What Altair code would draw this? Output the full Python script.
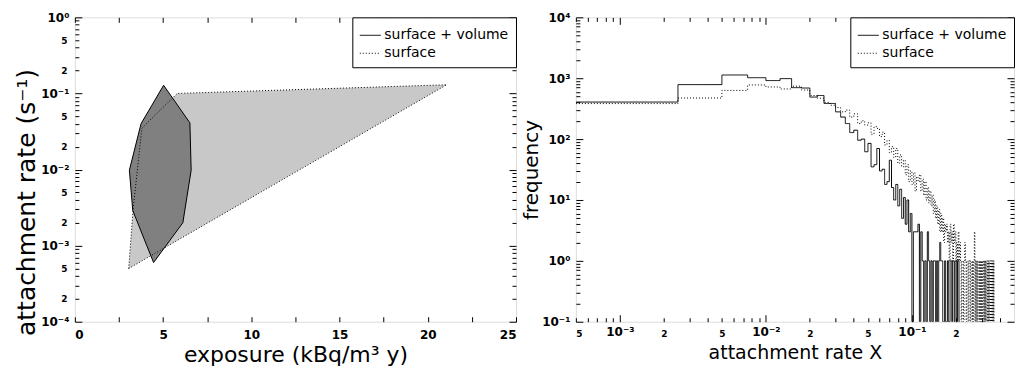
import math
import altair as alt
import pandas as pd

# ---------------- data ----------------
# left panel: polygons in (exposure, attachment rate)
sv_exposure = [5.03, 6.52, 6.59, 6.12, 4.46, 3.28, 3.09, 3.75, 5.03]
sv_rate = [0.128, 0.041, 0.0098, 0.0020, 0.0006, 0.0029, 0.0098, 0.040, 0.128]
s_exposure = [3.05, 3.30, 3.80, 5.80, 21.07, 3.05]
s_rate = [0.0005, 0.0030, 0.035, 0.100, 0.130, 0.0005]

# right panel: histogram counts, bins of equal width starting at 0
bin_width = 0.0025
sv_counts = [406, 785, 1130, 1020, 915, 985, 700, 690, 490, 520,
             385, 385, 280, 230, 180, 128, 140, 96, 100, 62,
             85, 35, 38, 70, 30, 32, 18, 20, 45, 16,
             10, 18, 8, 15, 5, 11, 4, 10, 3, 6,
             0, 3, 3, 3, 4, 0, 3, 1, 0, 1,
             0, 3, 1, 0, 1, 0, 1, 1, 0, 1,
             0, 1, 2, 1, 1, 0, 0, 1, 0, 0,
             1, 0, 0, 1, 1, 0, 1, 1, 0, 1,
             1, 0, 1, 1, 0]
s_counts = [383, 473, 630, 775, 718, 666, 740, 640, 520, 470,
            400, 360, 330, 280, 300, 230, 260, 180, 200, 170,
            185, 120, 160, 150, 110, 130, 80, 95, 60, 75,
            50, 70, 40, 55, 35, 45, 26, 38, 20, 30,
            18, 28, 14, 24, 20, 26, 14, 22, 12, 20,
            10, 16, 9, 14, 8, 12, 6, 10, 5, 8,
            4, 7, 3, 6, 3, 5, 2, 4, 3, 4,
            2, 3, 1, 4, 2, 3, 1, 4, 2, 3,
            1, 2, 1, 3, 1, 2, 1, 0, 1, 1,
            0, 1, 2, 1, 0, 1, 1, 0, 1, 1,
            0, 1, 1, 0, 1, 0, 1, 3, 0, 1,
            0, 1, 0, 1, 1, 0, 1, 0, 1, 0,
            1, 0, 1, 1, 0, 1, 0, 1, 0, 1,
            1, 0, 1, 0, 1, 0, 1, 1, 0, 1,
            0, 1, 0, 1, 0, 1, 0]

series_names = ["surface + volume", "surface"]

# ---------------- tables ----------------
dark = pd.DataFrame({"exposure": sv_exposure, "rate": sv_rate,
                     "i": range(len(sv_exposure)), "series": series_names[0]})
light = pd.DataFrame({"exposure": s_exposure, "rate": s_rate,
                      "i": range(len(s_exposure)), "series": series_names[1]})

rows = []
for name, counts in zip(series_names, [sv_counts, s_counts]):
    for k, c in enumerate(counts):
        rows.append({"series": name, "edge": k * bin_width, "count": c})
    rows.append({"series": name, "edge": len(counts) * bin_width, "count": counts[-1]})
hist = pd.DataFrame(rows)

# ---------------- axis helpers ----------------
SUP = str.maketrans("-0123456789", "⁻⁰¹²³⁴⁵⁶⁷⁸⁹")
FONT = "DejaVu Sans"


def pow_expr(exps):
    parts = []
    for e in exps:
        v = 10.0 ** e
        parts.append(f"abs(datum.value - {v!r}) < {v * 1e-3!r} ? '10{str(e).translate(SUP)}'")
    return " : ".join(parts) + " : ''"


def minor_vals(e_lo, e_hi, lo, hi):
    out = []
    for e in range(e_lo, e_hi + 1):
        for d in range(2, 10):
            v = float(f"{d}e{e}")
            if lo - 1e-12 <= v <= hi:
                out.append(v)
    return out


def minor_expr(vals):
    parts = []
    for v in vals:
        d = int(round(v / 10 ** math.floor(math.log10(v) + 1e-9)))
        if d in (2, 5):
            parts.append(f"abs(datum.value - {v!r}) < {v * 1e-3!r} ? '{d}'")
    return (" : ".join(parts) + " : ''") if parts else "''"


BIG, SMALL = 7, 4


def major_axis(orient, vals, exps, labels=True, pad=6, **extra):
    kw = dict(orient=orient, values=vals, tickSize=BIG, offset=-BIG, domain=False,
              grid=False, title=None, tickColor="black", labels=labels)
    if labels:
        kw.update(labelExpr=pow_expr(exps), labelFont=FONT, labelFontSize=12,
                  labelFontWeight="bold", labelColor="black", labelPadding=pad)
    kw.update(extra)
    return alt.Axis(**kw)


def minor_axis(orient, vals, labels=True, pad=8):
    kw = dict(orient=orient, values=vals, tickSize=SMALL, offset=-SMALL, domain=False,
              grid=False, title=None, tickColor="black", labels=labels)
    if labels:
        kw.update(labelExpr=minor_expr(vals), labelFont=FONT, labelFontSize=9,
                  labelFontWeight="bold", labelColor="black", labelPadding=pad)
    return alt.Axis(**kw)


def title_kw(text, size, pad, **extra):
    d = dict(title=text, titleFont=FONT, titleFontSize=size, titleFontWeight="normal",
             titleColor="black", titlePadding=pad)
    d.update(extra)
    return d


dash_scale = alt.Scale(domain=series_names, range=[[1, 0], [1, 2]])


def legend():
    return alt.Legend(title=None, orient="top-right", offset=0, strokeColor="black",
                      fillColor="white", padding=7, symbolType="stroke", symbolSize=441,
                      symbolStrokeWidth=1, symbolStrokeColor="black", labelFont=FONT,
                      labelFontSize=14, labelColor="black", labelOffset=3, rowPadding=-10,
                      cornerRadius=0, labelLimit=300)


# ---------------- left panel ----------------
ex_scale = alt.Scale(domain=[0, 25], nice=False, zero=False)
ar_scale = alt.Scale(type="log", domain=[1e-4, 1], nice=False)
ex_ticks = [0, 2.5, 5, 7.5, 10, 12.5, 15, 17.5, 20, 22.5, 25]
ar_major = [1e-4, 1e-3, 1e-2, 1e-1, 1.0]
ar_minor = minor_vals(-4, -1, 1e-4, 1.0)

x_bottom = alt.Axis(orient="bottom", values=ex_ticks, tickSize=5, offset=-5, domain=False,
                    grid=False, tickColor="black", labelFont=FONT, labelFontSize=12,
                    labelFontWeight="bold", labelColor="black", labelPadding=8,
                    labelExpr="datum.value % 5 == 0 ? format(datum.value, 'd') : ''",
                    **title_kw("exposure (kBq/m³ y)", 22, 4))
x_top = alt.Axis(orient="top", values=ex_ticks, tickSize=5, offset=-5, domain=False,
                 grid=False, tickColor="black", labels=False, title=None)

y_left = major_axis("left", ar_major, [-4, -3, -2, -1, 0],
                    **title_kw("attachment rate (s⁻¹)", 25, 1, titleY=185))

light_fill = alt.Chart(light).mark_line(fill="#c8c8c8", stroke="transparent").encode(
    x=alt.X("exposure:Q", scale=ex_scale, axis=x_bottom),
    y=alt.Y("rate:Q", scale=ar_scale, axis=y_left),
    order="i:Q",
)
dark_poly = alt.Chart(dark).mark_line(fill="#808080", color="black", strokeWidth=1).encode(
    x=alt.X("exposure:Q", scale=ex_scale, axis=x_top),
    y=alt.Y("rate:Q", scale=ar_scale, axis=minor_axis("left", ar_minor)),
    order="i:Q",
)
light_line = alt.Chart(light).mark_line(color="black", strokeWidth=1).encode(
    x=alt.X("exposure:Q", scale=ex_scale, axis=None),
    y=alt.Y("rate:Q", scale=ar_scale, axis=major_axis("right", ar_major, [], labels=False)),
    order="i:Q",
    strokeDash=alt.StrokeDash("series:N", scale=dash_scale, legend=legend()),
)
light_ghost = alt.Chart(light).mark_line(strokeOpacity=0).encode(
    x=alt.X("exposure:Q", scale=ex_scale, axis=None),
    y=alt.Y("rate:Q", scale=ar_scale, axis=minor_axis("right", ar_minor, labels=False)),
    order="i:Q",
)
left = alt.layer(light_fill, dark_poly, light_line, light_ghost).resolve_axis(
    x="independent", y="independent").properties(width=442, height=305)

# ---------------- right panel ----------------
xr_max = 0.5
xr_scale = alt.Scale(type="log", domain=[0.0005, xr_max], nice=False)
fr_scale = alt.Scale(type="log", domain=[0.1, 1e4], nice=False)
xr_major = [1e-3, 1e-2, 1e-1]
xr_minor = minor_vals(-4, -1, 0.0005, 0.45)
fr_major = [0.1, 1.0, 10.0, 100.0, 1000.0, 10000.0]
fr_minor = minor_vals(-1, 3, 0.1, 1e4)

xr_bottom = major_axis("bottom", xr_major, [-3, -2, -1], pad=5,
                       **title_kw("attachment rate X", 19, 6))
fr_left = major_axis("left", fr_major, [-1, 0, 1, 2, 3, 4],
                     **title_kw("frequency", 20, 0))

base = alt.Chart(hist).transform_calculate(
    xp="max(datum.edge, 0.0005)", yp="max(datum.count, 0.1)")

hist_line = base.mark_line(interpolate="step-after", color="black", strokeWidth=1,
                           clip=True).encode(
    x=alt.X("xp:Q", scale=xr_scale, axis=xr_bottom),
    y=alt.Y("yp:Q", scale=fr_scale, axis=fr_left),
    detail="series:N",
    strokeDash=alt.StrokeDash("series:N", scale=dash_scale, legend=legend()),
)
g1 = base.mark_line(strokeOpacity=0, clip=True).encode(
    x=alt.X("xp:Q", scale=xr_scale, axis=minor_axis("bottom", xr_minor, pad=8)),
    y=alt.Y("yp:Q", scale=fr_scale, axis=minor_axis("left", fr_minor, labels=False)),
    detail="series:N")
g2 = base.mark_line(strokeOpacity=0, clip=True).encode(
    x=alt.X("xp:Q", scale=xr_scale, axis=major_axis("top", xr_major, [], labels=False)),
    y=alt.Y("yp:Q", scale=fr_scale, axis=major_axis("right", fr_major, [], labels=False)),
    detail="series:N")
g3 = base.mark_line(strokeOpacity=0, clip=True).encode(
    x=alt.X("xp:Q", scale=xr_scale, axis=minor_axis("top", xr_minor, labels=False)),
    y=alt.Y("yp:Q", scale=fr_scale, axis=minor_axis("right", fr_minor, labels=False)),
    detail="series:N")
right = alt.layer(hist_line, g1, g2, g3).resolve_axis(
    x="independent", y="independent").properties(width=439, height=305)

chart = alt.hconcat(left, right, spacing=4).resolve_scale(
    strokeDash="independent").resolve_legend(strokeDash="independent").properties(
    padding={"left": 6, "top": 2, "right": 0, "bottom": 0}
).configure_view(stroke="black", strokeWidth=1).configure(background="white")

chart.save("out.html", embed_options={"renderer": "svg", "actions": False})
